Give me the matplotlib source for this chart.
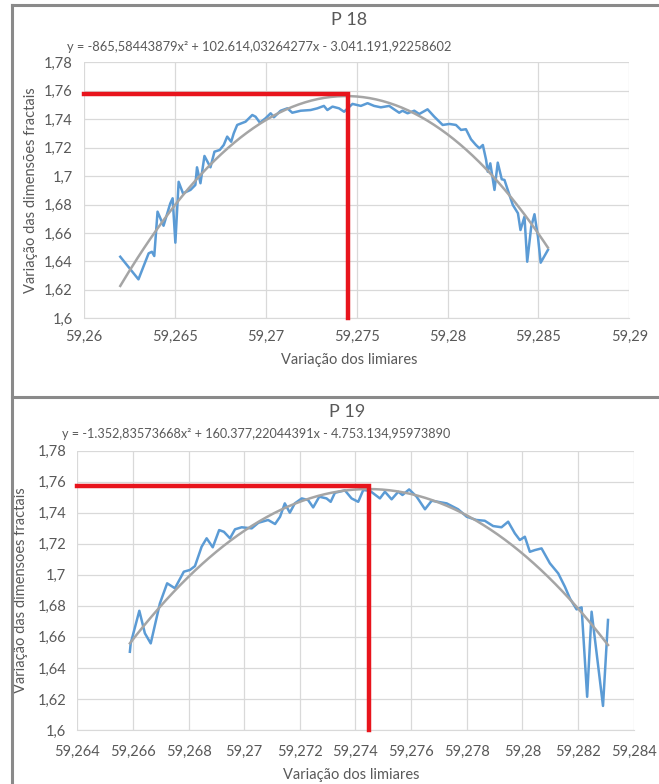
import matplotlib.pyplot as plt
import numpy as np
from matplotlib.lines import Line2D

plt.rcParams["font.family"] = ["Lato", "DejaVu Sans"]

# P 18 -- blue series (limiar, dimensao fractal)
p18_x = [59.26200, 59.26300, 59.26356, 59.26374, 59.26387, 59.26405, 59.26438, 59.26475,
         59.26488, 59.26503, 59.26521, 59.26545, 59.26586, 59.26613, 59.26622, 59.26641,
         59.26663, 59.26696, 59.26718, 59.26747, 59.26769, 59.26788, 59.26810, 59.26824,
         59.26843, 59.26889, 59.26926, 59.26944, 59.26968, 59.26999, 59.27027, 59.27045,
         59.27082, 59.27119, 59.27146, 59.27192, 59.27247, 59.27284, 59.27320, 59.27339,
         59.27367, 59.27403, 59.27431, 59.27477, 59.27523, 59.27560, 59.27596, 59.27633,
         59.27679, 59.27706, 59.27734, 59.27752, 59.27780, 59.27817, 59.27844, 59.27890,
         59.27927, 59.27973, 59.28010, 59.28046, 59.28074, 59.28101, 59.28129, 59.28156,
         59.28175, 59.28194, 59.28212, 59.28221, 59.28235, 59.28258, 59.28276, 59.28298,
         59.28313, 59.28331, 59.28359, 59.28387, 59.28401, 59.28423, 59.28438, 59.28460,
         59.28478, 59.28497, 59.28512, 59.28552]
p18_y = [1.6433, 1.6274, 1.6457, 1.6468, 1.6438, 1.6750, 1.6651, 1.6808,
         1.6844, 1.6532, 1.6960, 1.6879, 1.6903, 1.6938, 1.7062, 1.6950,
         1.7142, 1.7062, 1.7172, 1.7184, 1.7219, 1.7278, 1.7242, 1.7301,
         1.7360, 1.7383, 1.7430, 1.7418, 1.7376, 1.7407, 1.7442, 1.7414,
         1.7460, 1.7477, 1.7446, 1.7460, 1.7465, 1.7477, 1.7494, 1.7465,
         1.7489, 1.7477, 1.7453, 1.7508, 1.7494, 1.7513, 1.7494, 1.7484,
         1.7494, 1.7470, 1.7446, 1.7460, 1.7442, 1.7460, 1.7437, 1.7470,
         1.7418, 1.7360, 1.7367, 1.7360, 1.7325, 1.7330, 1.7259, 1.7219,
         1.7196, 1.7219, 1.7114, 1.7031, 1.7090, 1.6903, 1.7095, 1.6978,
         1.6973, 1.6903, 1.6797, 1.6739, 1.6621, 1.6715, 1.6398, 1.6644,
         1.6732, 1.6574, 1.6391, 1.6481]
p18_coef = [-865.58443879, 102614.03264277, -3041191.92258602]
p18_eq = "y = -865,58443879x² + 102.614,03264277x - 3.041.191,92258602"
p18_marker = (59.2745, 1.7575)

# P 19 -- blue series
p19_x = [59.26589, 59.26592, 59.26623, 59.26643, 59.26664, 59.26697, 59.26723, 59.26751,
         59.26783, 59.26805, 59.26823, 59.26847, 59.26865, 59.26887, 59.26910, 59.26927,
         59.26949, 59.26967, 59.26991, 59.27027, 59.27051, 59.27086, 59.27111, 59.27129,
         59.27146, 59.27164, 59.27182, 59.27207, 59.27230, 59.27248, 59.27270, 59.27296,
         59.27311, 59.27326, 59.27362, 59.27386, 59.27410, 59.27428, 59.27452, 59.27488,
         59.27506, 59.27530, 59.27554, 59.27569, 59.27593, 59.27620, 59.27650, 59.27674,
         59.27697, 59.27728, 59.27769, 59.27800, 59.27835, 59.27865, 59.27895, 59.27925,
         59.27949, 59.27973, 59.27991, 59.28009, 59.28027, 59.28045, 59.28069, 59.28099,
         59.28129, 59.28153, 59.28171, 59.28195, 59.28213, 59.28233, 59.28249, 59.28290,
         59.28308]
p19_y = [1.6504, 1.6558, 1.6768, 1.6623, 1.6558, 1.6816, 1.6945, 1.6913,
         1.7020, 1.7031, 1.7056, 1.7181, 1.7235, 1.7177, 1.7288, 1.7277,
         1.7235, 1.7293, 1.7306, 1.7299, 1.7335, 1.7353, 1.7327, 1.7374,
         1.7460, 1.7400, 1.7460, 1.7492, 1.7481, 1.7434, 1.7503, 1.7492,
         1.7470, 1.7528, 1.7544, 1.7492, 1.7470, 1.7546, 1.7541, 1.7492,
         1.7535, 1.7486, 1.7535, 1.7514, 1.7550, 1.7503, 1.7422, 1.7477,
         1.7470, 1.7460, 1.7422, 1.7374, 1.7353, 1.7348, 1.7314, 1.7306,
         1.7342, 1.7267, 1.7224, 1.7245, 1.7148, 1.7159, 1.7170, 1.7074,
         1.7009, 1.6923, 1.6848, 1.6777, 1.6790, 1.6214, 1.6762, 1.6155,
         1.6709]
p19_coef = [-1352.83573668, 160377.22044391, -4753134.95973890]
p19_eq = "y = -1.352,83573668x² + 160.377,22044391x - 4.753.134,95973890"
p19_marker = (59.2745, 1.7572)

y_ticks = [1.6, 1.62, 1.64, 1.66, 1.68, 1.7, 1.72, 1.74, 1.76, 1.78]
y_labels = ["1,6", "1,62", "1,64", "1,66", "1,68", "1,7", "1,72", "1,74", "1,76", "1,78"]
p18_xticks = [59.26, 59.265, 59.27, 59.275, 59.28, 59.285, 59.29]
p18_xlabels = ["59,26", "59,265", "59,27", "59,275", "59,28", "59,285", "59,29"]
p19_xticks = [59.264, 59.266, 59.268, 59.27, 59.272, 59.274, 59.276, 59.278, 59.28, 59.282, 59.284]
p19_xlabels = ["59,264", "59,266", "59,268", "59,27", "59,272", "59,274", "59,276",
               "59,278", "59,28", "59,282", "59,284"]

TXT = "#595959"
BLUE = "#5b9bd5"
TREND = "#a5a5a5"
RED = "#e8141c"
GRID = "#d9d9d9"
FRAME = "#8a8a8a"


def draw_panel(ax, xs, ys, coef, marker, xticks, xlabels, xpad):
    ax.set_xlim(xticks[0], xticks[-1])
    ax.set_ylim(y_ticks[0], y_ticks[-1])
    ax.set_xticks(xticks)
    ax.set_xticklabels(xlabels)
    ax.set_yticks(y_ticks)
    ax.set_yticklabels(y_labels)
    ax.grid(True, color=GRID, linewidth=0.9)
    ax.set_axisbelow(True)
    for side in ["top", "right", "left"]:
        ax.spines[side].set_visible(False)
    ax.spines["bottom"].set_color(GRID)
    ax.tick_params(length=0, labelsize=10.5, labelcolor=TXT)
    ax.tick_params(axis="y", pad=8)
    ax.tick_params(axis="x", pad=xpad)

    ax.plot(xs, ys, color=BLUE, linewidth=1.8, zorder=3)
    tx = np.linspace(xs[0], xs[-1], 200)
    ax.plot(tx, np.polyval(coef, tx), color=TREND, linewidth=1.8, zorder=4)

    mx, my = marker
    ax.plot([xticks[0], mx, mx], [my, my, y_ticks[0]], color=RED, linewidth=3.2,
            solid_joinstyle="miter", zorder=5, clip_on=False)

    ax.set_xlabel("Variação dos limiares", color=TXT, fontsize=10.5)
    ax.set_ylabel("Variação das dimensões fractais", color=TXT, fontsize=10.5)


W, H = 659, 784
fig = plt.figure(figsize=(W / 100, H / 100), dpi=100)

ax1 = fig.add_axes([83.9 / W, 1 - 318.3 / H, (629.4 - 83.9) / W, (318.3 - 62.4) / H])
draw_panel(ax1, p18_x, p18_y, p18_coef, p18_marker, p18_xticks, p18_xlabels, 8)
ax1.xaxis.set_label_coords((349 - 83.9) / (629.4 - 83.9), -0.135)
ax1.yaxis.set_label_coords(-0.084, 0.5)

ax2 = fig.add_axes([77.3 / W, 1 - 730 / H, (633.6 - 77.3) / W, (730 - 450.6) / H])
draw_panel(ax2, p19_x, p19_y, p19_coef, p19_marker, p19_xticks, p19_xlabels, 11)
ax2.xaxis.set_label_coords((351 - 77.3) / (633.6 - 77.3), -0.135)
ax2.yaxis.set_label_coords(-0.089, 0.5)

fig.text(349 / W, 1 - 20 / H, "P 18", ha="center", va="center", fontsize=13, color=TXT)
fig.text(67 / W, 1 - 47 / H, p18_eq, ha="left", va="center", fontsize=9.3, color=TXT)
fig.text(347 / W, 1 - 412 / H, "P 19", ha="center", va="center", fontsize=13, color=TXT)
fig.text(62 / W, 1 - 434 / H, p19_eq, ha="left", va="center", fontsize=9.1, color=TXT)

# frame lines around the two pasted panels
fig.add_artist(Line2D([12 / W, 12 / W], [0, 1 - 5 / H], color=FRAME, linewidth=2.2))
fig.add_artist(Line2D([12 / W, 1], [1 - 5 / H, 1 - 5 / H], color=FRAME, linewidth=2.2))
fig.add_artist(Line2D([12 / W, 1], [1 - 396.5 / H, 1 - 396.5 / H], color=FRAME, linewidth=2.2))

fig.savefig("out.png", dpi=100, facecolor="white")
